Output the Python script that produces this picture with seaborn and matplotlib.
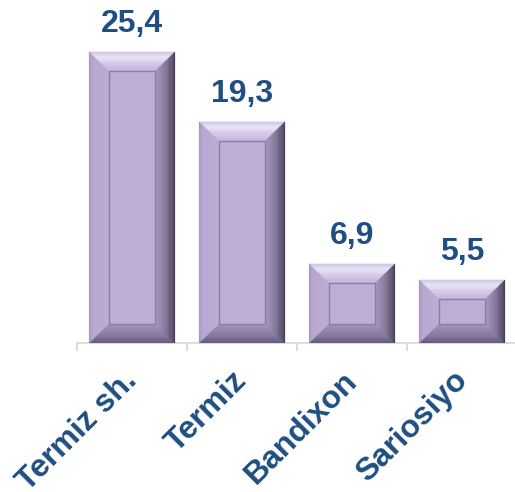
import matplotlib
matplotlib.use("Agg")
import matplotlib.pyplot as plt
import seaborn as sns
import pandas as pd
import numpy as np
from matplotlib.patches import Polygon, Rectangle
from matplotlib.colors import LinearSegmentedColormap
from matplotlib.transforms import ScaledTranslation

categories = ["Termiz sh.", "Termiz", "Bandixon", "Sariosiyo"]
values = [25.4, 19.3, 6.9, 5.5]
value_labels = ["25,4", "19,3", "6,9", "5,5"]

sns.set_theme(style="white")
plt.rcParams['font.family'] = ['Liberation Sans', 'DejaVu Sans']

fig = plt.figure(figsize=(5.15, 4.92), dpi=100)
ax = fig.add_axes([77/515, 149/492, 440/515, 343/492])

df = pd.DataFrame({"cat": categories, "val": values})
sns.barplot(data=df, x="cat", y="val", ax=ax, color="#bdaed6", width=0.78,
            saturation=1, edgecolor="none", linewidth=0)

ax.set_xlim(-0.5, len(categories) - 0.5)
ax.set_ylim(0, 343 / 11.46)
ax.set_xlabel("")
ax.set_ylabel("")
ax.set_yticks([])
for s in ["top", "right", "left"]:
    ax.spines[s].set_visible(False)
ax.spines["bottom"].set_color("#d9d9d9")
ax.spines["bottom"].set_linewidth(1.3)

ax.set_xticks(range(len(categories)))
ax.set_xticklabels(categories, rotation=45, ha="right", va="top",
                   rotation_mode="anchor", fontsize=23, fontweight="bold",
                   color="#1f4e82")
ax.tick_params(axis="x", which="major", length=0, pad=17)
shift = ScaledTranslation(-10/100, 1/100, fig.dpi_scale_trans)
for lab in ax.get_xticklabels():
    lab.set_transform(lab.get_transform() + shift)
ax.set_xticks(np.arange(-0.5, len(categories), 1.0), minor=True)
ax.tick_params(axis="x", which="minor", length=6, width=1.3, color="#d9d9d9",
               bottom=True, direction="out")

# bevel effect derived from the bar patches
t0 = ax.transData.transform((0, 0))
t1 = ax.transData.transform((1, 1))
px_x = t1[0] - t0[0]
px_y = t1[1] - t0[1]
bx = 20 / px_x
by = 19.5 / px_y

cm_top = LinearSegmentedColormap.from_list("t", [(0, "#d2c7e5"), (0.3, "#eee8f8"), (0.55, "#d9cfec"), (1, "#c4b5dd")])
cm_left = LinearSegmentedColormap.from_list("l", [(0, "#a595c0"), (0.2, "#b8a8d1"), (1, "#bdadd5")])
cm_right = LinearSegmentedColormap.from_list("r", [(0, "#3c3648"), (0.12, "#564c68"), (0.5, "#867899"), (1, "#a899c2")])
cm_bot = LinearSegmentedColormap.from_list("b", [(0, "#5e5476"), (0.4, "#85779e"), (1, "#a595bf")])

N = 24
bars = [p for p in ax.patches if isinstance(p, Rectangle)]
for p in bars:
    x0 = p.get_x(); x1 = x0 + p.get_width()
    y0 = p.get_y(); y1 = y0 + p.get_height()
    for i in range(N):
        a = i / N; b = (i + 1) / N
        c = (a + b) / 2
        ax.add_patch(Polygon([(x0 + a*bx, y1 - a*by), (x1 - a*bx, y1 - a*by),
                              (x1 - b*bx, y1 - b*by), (x0 + b*bx, y1 - b*by)],
                             closed=True, facecolor=cm_top(c), edgecolor=cm_top(c), lw=0.3, zorder=3))
        ax.add_patch(Polygon([(x0 + a*bx, y0 + a*by), (x1 - a*bx, y0 + a*by),
                              (x1 - b*bx, y0 + b*by), (x0 + b*bx, y0 + b*by)],
                             closed=True, facecolor=cm_bot(c), edgecolor=cm_bot(c), lw=0.3, zorder=3))
        ax.add_patch(Polygon([(x0 + a*bx, y0 + a*by), (x0 + a*bx, y1 - a*by),
                              (x0 + b*bx, y1 - b*by), (x0 + b*bx, y0 + b*by)],
                             closed=True, facecolor=cm_left(c), edgecolor=cm_left(c), lw=0.3, zorder=3))
        ax.add_patch(Polygon([(x1 - a*bx, y0 + a*by), (x1 - a*bx, y1 - a*by),
                              (x1 - b*bx, y1 - b*by), (x1 - b*bx, y0 + b*by)],
                             closed=True, facecolor=cm_right(c), edgecolor=cm_right(c), lw=0.3, zorder=3))
    ax.add_patch(Rectangle((x0 + bx, y0 + by), (x1 - x0) - 2*bx, (y1 - y0) - 2*by,
                           facecolor="#bdaed6", edgecolor="#8c7ca6", lw=1.0, zorder=4))

for p, lab in zip(bars, value_labels):
    cx = p.get_x() + p.get_width() / 2
    ax.annotate(lab, (cx, p.get_height()), xytext=(0, 20), textcoords="offset pixels",
                ha="center", va="baseline", fontsize=23, fontweight="bold",
                color="#1f4e82", annotation_clip=False)

fig.savefig("out.png", dpi=100)
